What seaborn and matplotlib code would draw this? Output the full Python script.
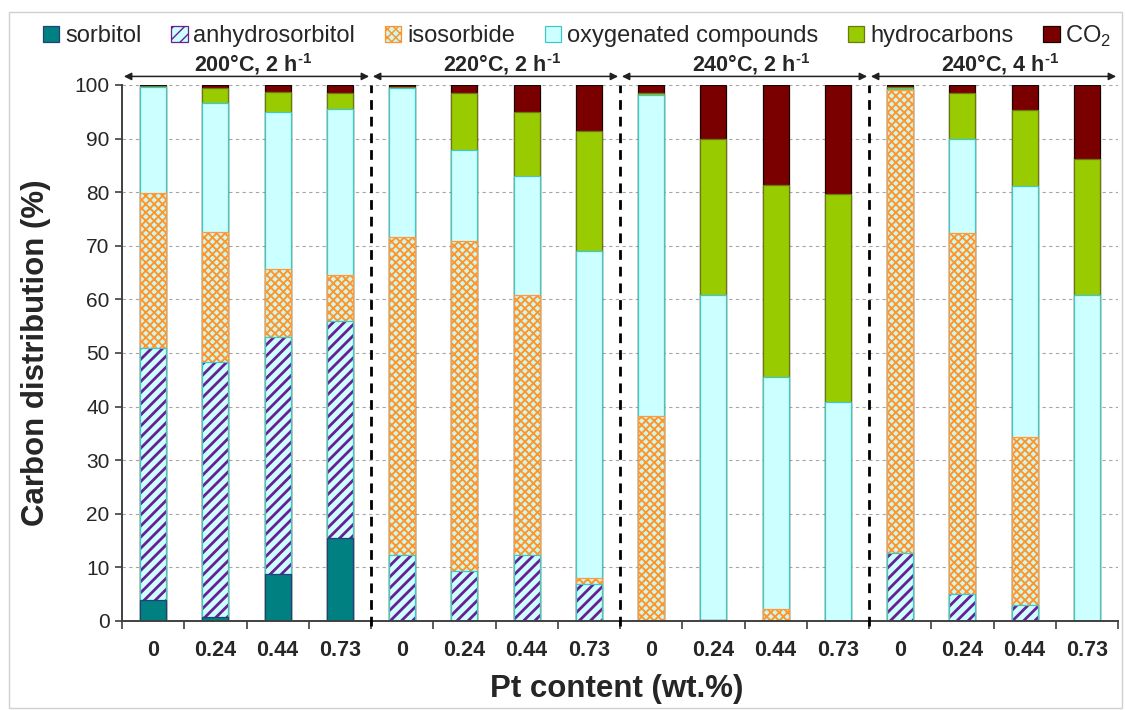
import numpy as np
import pandas as pd
import matplotlib
matplotlib.use("Agg")
import matplotlib.pyplot as plt
from matplotlib.patches import Patch, Rectangle
import seaborn as sns

# Reaction conditions (one block of four catalysts each) and Pt loadings
conditions = ["200°C, 2 h$^{\\mathbf{‐1}}$", "220°C, 2 h$^{\\mathbf{‐1}}$",
              "240°C, 2 h$^{\\mathbf{‐1}}$", "240°C, 4 h$^{\\mathbf{‐1}}$"]
pt_content = ["0", "0.24", "0.44", "0.73"]
pt_labels = pt_content * len(conditions)

# Carbon distribution (%) per product family, 16 runs in order
sorbitol = [4.0, 0.7, 8.7, 15.5,
            0.0, 0.0, 0.0, 0.0,
            0.0, 0.2, 0.0, 0.0,
            0.0, 0.0, 0.0, 0.0]
anhydrosorbitol = [47.0, 47.7, 44.3, 40.5,
                   12.4, 9.4, 12.3, 6.9,
                   0.0, 0.0, 0.0, 0.0,
                   12.6, 5.0, 3.0, 0.0]
isosorbide = [28.8, 24.2, 12.6, 8.6,
              59.2, 61.5, 48.6, 1.1,
              38.3, 0.0, 2.3, 0.0,
              86.4, 67.3, 31.4, 0.0]
oxygenated = [19.8, 24.0, 29.4, 31.0,
              27.8, 17.0, 22.1, 61.1,
              59.8, 60.7, 43.2, 40.8,
              0.2, 17.7, 46.8, 60.8]
hydrocarbons = [0.3, 2.8, 3.7, 2.9,
                0.2, 10.6, 11.9, 22.4,
                0.5, 29.1, 35.9, 38.8,
                0.4, 8.6, 14.2, 25.4]
co2 = [0.1, 0.6, 1.3, 1.5,
       0.4, 1.5, 5.1, 8.5,
       1.4, 10.0, 18.6, 20.4,
       0.4, 1.4, 4.6, 13.8]

components = ["sorbitol", "anhydrosorbitol", "isosorbide",
              "oxygenated compounds", "hydrocarbons", "CO$_2$"]
run_ids = [f"r{i:02d}" for i in range(len(pt_labels))]

df = pd.DataFrame({
    "run": run_ids,
    "sorbitol": sorbitol,
    "anhydrosorbitol": anhydrosorbitol,
    "isosorbide": isosorbide,
    "oxygenated compounds": oxygenated,
    "hydrocarbons": hydrocarbons,
    "CO$_2$": co2,
})
cum = df[components].cumsum(axis=1)
cum["run"] = run_ids

styles = {
    "sorbitol": dict(face="#008080", edge="#23407a", hatch=None, hlw=1.0),
    "anhydrosorbitol": dict(face="#ccffff", edge="#6a1e92", hatch="///", hlw=2.0),
    "isosorbide": dict(face="#ccf6ee", edge="#ff9428", hatch="xxxx", hlw=1.35),
    "oxygenated compounds": dict(face="#ccffff", edge="#40c8c8", hatch=None, hlw=1.0),
    "hydrocarbons": dict(face="#99cc00", edge="#6b7a10", hatch=None, hlw=1.0),
    "CO$_2$": dict(face="#7a0000", edge="#1a0000", hatch=None, hlw=1.0),
}

sns.set_theme(style="white")
plt.rcParams["font.family"] = ["Liberation Sans", "DejaVu Sans"]
plt.rcParams["mathtext.fontset"] = "custom"
plt.rcParams["mathtext.rm"] = "Liberation Sans"
plt.rcParams["mathtext.bf"] = "Liberation Sans:bold"

fig = plt.figure(figsize=(11.25, 7.1), dpi=100)
ax = fig.add_axes([122 / 1125, 1 - 621 / 710, 996 / 1125, 536 / 710])

BAR_W = 0.42


def set_hatch_lw(patches, lw):
    for p in patches:
        if hasattr(p, "set_hatch_linewidth"):
            p.set_hatch_linewidth(lw)


# Stacked bars: draw cumulative totals from the top layer down
for comp in reversed(components):
    st = styles[comp]
    n0 = len(ax.patches)
    sns.barplot(data=cum, x="run", y=comp, order=run_ids, ax=ax,
                color=st["face"], saturation=1, width=BAR_W, errorbar=None,
                edgecolor=st["edge"], linewidth=0.9 if st["hatch"] is None else 0,
                hatch=st["hatch"], zorder=2)
    set_hatch_lw(ax.patches[n0:], st["hlw"])
    if comp == "anhydrosorbitol":
        sns.barplot(data=cum, x="run", y=comp, order=run_ids, ax=ax,
                    color="#40c8c8", saturation=1, width=BAR_W, errorbar=None,
                    fill=False, linewidth=0.9, zorder=2)
    if comp == "isosorbide":
        sns.barplot(data=cum, x="run", y=comp, order=run_ids, ax=ax,
                    color="#ff9a40", saturation=1, width=BAR_W, errorbar=None,
                    fill=False, linewidth=0.9, zorder=2)

ax.set_xlim(-0.5, len(run_ids) - 0.5)
ax.set_ylim(0, 100)
ax.set_yticks(np.arange(0, 101, 10))
ax.set_yticklabels([str(v) for v in range(0, 101, 10)], fontsize=15)
ax.set_xticks(range(len(run_ids)))
ax.set_xticklabels(pt_labels, fontsize=15.5, fontweight="bold")
ax.set_xticks(np.arange(-0.5, len(run_ids), 1.0), minor=True)
ax.tick_params(axis="x", which="major", length=0, pad=14)
ax.tick_params(axis="x", which="minor", length=6, width=1.2, direction="out",
               color="#404040", bottom=True)
ax.tick_params(axis="y", length=5, width=1.2, direction="out", left=True,
               color="#404040", pad=4)

ax.yaxis.grid(True, linestyle=(0, (3, 3)), color="#a6a6a6", linewidth=0.8)
ax.set_axisbelow(True)
for side in ("top", "right"):
    ax.spines[side].set_visible(False)
for side in ("left", "bottom"):
    ax.spines[side].set_color("#404040")
    ax.spines[side].set_linewidth(1.4)

ax.set_xlabel("Pt content (wt.%)", fontsize=22.5, fontweight="bold")
ax.set_ylabel("Carbon distribution (%)", fontsize=22.5, fontweight="bold")
ax.xaxis.set_label_coords(0.497, -0.098)
ax.yaxis.set_label_coords(-0.071, 0.5)

# Block separators, span arrows and condition headers
n_per = len(pt_content)
for g, cond in enumerate(conditions):
    x0 = g * n_per - 0.5
    x1 = x0 + n_per
    if g > 0:
        ax.axvline(x0, color="black", linestyle=(0, (3.5, 2.5)), linewidth=2,
                   zorder=3, clip_on=False, ymin=-0.01, ymax=1.0)
    ax.annotate("", xy=(x0 + 0.03, 101.6), xytext=(x1 - 0.03, 101.6),
                arrowprops=dict(arrowstyle="<|-|>", color="#202020", lw=1.1,
                                shrinkA=0, shrinkB=0, mutation_scale=11),
                annotation_clip=False)
    ax.text(g * n_per + 1.6, 104.0, cond, ha="center", va="center",
            fontsize=15.5, fontweight="bold", clip_on=False)

handles = [Patch(facecolor=styles[c]["face"], edgecolor=styles[c]["edge"],
                 hatch=styles[c]["hatch"], linewidth=0.9) for c in components]
leg = fig.legend(handles, components, loc="center",
                 bbox_to_anchor=(0.513, 1 - 36 / 710), ncol=6, frameon=False,
                 fontsize=17, handlelength=0.7, handleheight=0.7,
                 handletextpad=0.25, columnspacing=1.25, borderaxespad=0)
set_hatch_lw(leg.get_patches(), 1.0)

fig.add_artist(Rectangle((9 / 1125, 2 / 710), 1113 / 1125, 1 - 14 / 710,
                         transform=fig.transFigure, fill=False,
                         edgecolor="#d0d0d0", linewidth=1))

fig.savefig("out.png", dpi=100)
